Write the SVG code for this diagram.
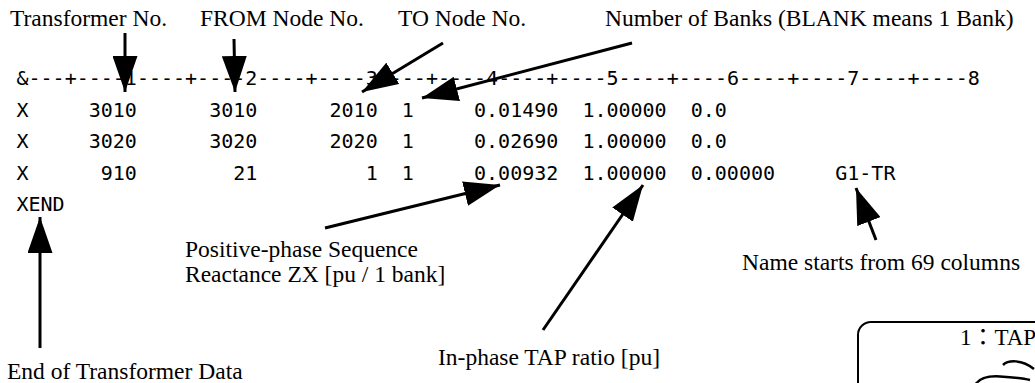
<svg xmlns="http://www.w3.org/2000/svg" width="1035" height="383" viewBox="0 0 1035 383">
  <style>
    .card { font-family: "DejaVu Sans Mono", "Liberation Mono", monospace; font-size: 20px; fill: #000; }
    .note { font-family: "Liberation Serif", "Times New Roman", serif; font-size: 23.5px; fill: #000; }
    .cjk { font-family: "Liberation Serif", "Noto Sans CJK JP", serif; font-size: 23px; fill: #000; }
    .lead { stroke: #000; stroke-width: 3; fill: none; marker-end: url(#head); }
    .coil { fill: none; stroke: #000; stroke-width: 2.5; }
  </style>
  <defs>
    <marker id="head" markerUnits="userSpaceOnUse" markerWidth="36" markerHeight="25" refX="36" refY="12.5" orient="auto">
      <path d="M0,0 L36,12.5 L0,25 z" fill="#000"/>
    </marker>
  </defs>

  <rect width="1035" height="383" fill="#fff"/>

  <!-- transformer data card: one column = 12.04px, column 1 at x=16.5 -->
  <g id="card" class="card">
    <text x="16.5" y="85">&amp;---+----1----+----2----+----3----+----4----+----5----+----6----+----7----+----8</text>

    <text x="16.5" y="116.6">X</text>
    <text x="88.74" y="116.6">3010</text>
    <text x="209.14" y="116.6">3010</text>
    <text x="329.54" y="116.6">2010</text>
    <text x="401.78" y="116.6">1</text>
    <text x="474.02" y="116.6">0.01490</text>
    <text x="582.38" y="116.6">1.00000</text>
    <text x="690.74" y="116.6">0.0</text>

    <text x="16.5" y="148.2">X</text>
    <text x="88.74" y="148.2">3020</text>
    <text x="209.14" y="148.2">3020</text>
    <text x="329.54" y="148.2">2020</text>
    <text x="401.78" y="148.2">1</text>
    <text x="474.02" y="148.2">0.02690</text>
    <text x="582.38" y="148.2">1.00000</text>
    <text x="690.74" y="148.2">0.0</text>

    <text x="16.5" y="179.8">X</text>
    <text x="100.78" y="179.8">910</text>
    <text x="233.22" y="179.8">21</text>
    <text x="365.66" y="179.8">1</text>
    <text x="401.78" y="179.8">1</text>
    <text x="474.02" y="179.8">0.00932</text>
    <text x="582.38" y="179.8">1.00000</text>
    <text x="690.74" y="179.8">0.00000</text>
    <text x="835.22" y="179.8">G1-TR</text>

    <text x="16.5" y="211.4">XEND</text>
  </g>

  <!-- field descriptions -->
  <g id="lbl-trno"><text class="note" x="10" y="26">Transformer No.</text></g>
  <g id="lbl-from"><text class="note" x="200" y="26">FROM Node No.</text></g>
  <g id="lbl-to"><text class="note" x="398" y="26">TO Node No.</text></g>
  <g id="lbl-banks"><text class="note" x="605" y="26">Number of Banks (BLANK means 1 Bank)</text></g>
  <g id="lbl-zx">
    <text class="note" x="185" y="257">Positive-phase Sequence</text>
    <text class="note" x="185" y="282">Reactance ZX [pu / 1 bank]</text>
  </g>
  <g id="lbl-name"><text class="note" x="742" y="270">Name starts from 69 columns</text></g>
  <g id="lbl-tap"><text class="note" x="438" y="365">In-phase TAP ratio [pu]</text></g>
  <g id="lbl-end"><text class="note" x="7" y="379">End of Transformer Data</text></g>

  <!-- leader arrows -->
  <g id="connectors">
    <path class="lead" d="M125,33 L125,92"/>
    <path class="lead" d="M234,39 L235,92"/>
    <path class="lead" d="M443,43 L362,92"/>
    <path class="lead" d="M632,43 L422,98"/>
    <path class="lead" d="M40,348 L40,217"/>
    <path class="lead" d="M325,228 L500,185"/>
    <path class="lead" d="M543,330 L643,185"/>
    <path class="lead" d="M876,240 L856,188"/>
  </g>

  <!-- tap ratio inset -->
  <g id="tap-box">
    <rect x="858" y="322" width="220" height="120" rx="13" ry="13" fill="none" stroke="#000" stroke-width="2"/>
    <text class="cjk" x="960" y="345">1：TAP</text>
    <path class="coil" d="M1003,365 C1008,360 1022,359 1034,369"/>
    <path class="coil" d="M975,385 C980,377 992,376 1000,376.5 S1022,378 1030,380"/>
  </g>
</svg>
